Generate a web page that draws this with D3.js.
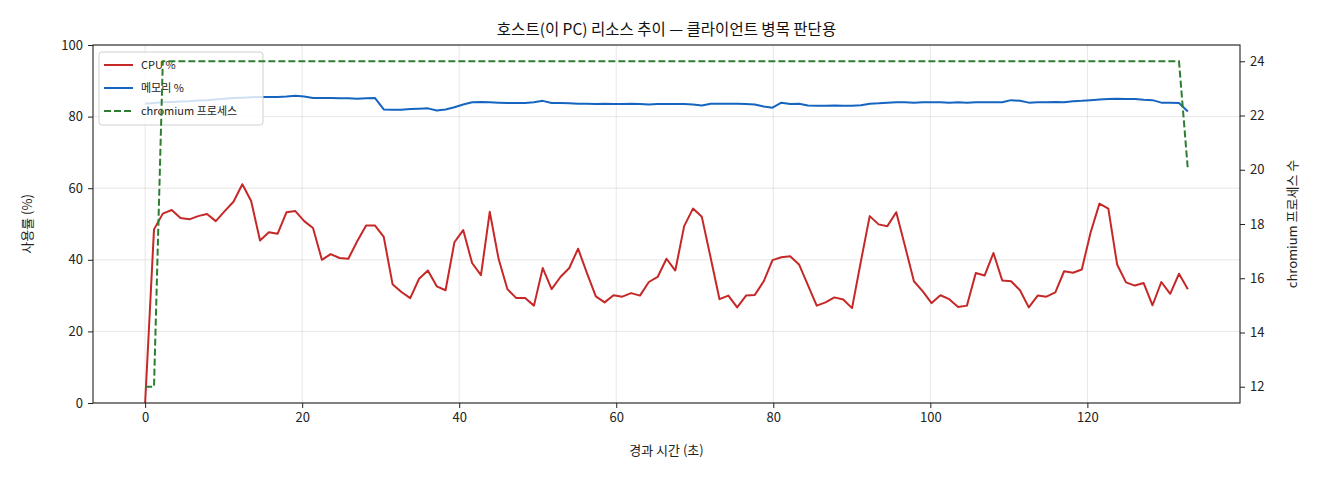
<!DOCTYPE html>
<html><head><meta charset="utf-8">
<script src="https://cdn.jsdelivr.net/npm/d3@7/dist/d3.min.js"></script>
<style>
html,body{margin:0;padding:0;background:#fff;}
svg text{font-family:"Noto Sans CJK KR","Noto Sans",sans-serif;}
</style></head>
<body>
<svg id="chart" width="1320" height="480"></svg>
<script>
const title = "호스트(이 PC) 리소스 추이 — 클라이언트 병목 판단용";
const xLabel = "경과 시간 (초)";
const yLeftLabel = "사용률 (%)";
const yRightLabel = "chromium 프로세스 수";
const seriesNames = ["CPU %", "메모리 %", "chromium 프로세스"];
const xTicks = [0, 20, 40, 60, 80, 100, 120];
const yLeftTicks = [0, 20, 40, 60, 80, 100];
const yRightTicks = [12, 14, 16, 18, 20, 22, 24];

const times = [
 0.00, 1.13, 2.25, 3.38, 4.50, 5.63, 6.75, 7.88, 9.00, 10.13,
 11.25, 12.38, 13.50, 14.63, 15.76, 16.88, 18.01, 19.13, 20.26, 21.38,
 22.51, 23.63, 24.76, 25.88, 27.01, 28.14, 29.26, 30.39, 31.51, 32.64,
 33.76, 34.89, 36.01, 37.14, 38.26, 39.39, 40.51, 41.64, 42.77, 43.89,
 45.02, 46.14, 47.27, 48.39, 49.52, 50.64, 51.77, 52.89, 54.02, 55.14,
 56.27, 57.40, 58.52, 59.65, 60.77, 61.90, 63.02, 64.15, 65.27, 66.40,
 67.52, 68.65, 69.77, 70.90, 72.03, 73.15, 74.28, 75.40, 76.53, 77.65,
 78.78, 79.90, 81.03, 82.15, 83.28, 84.41, 85.53, 86.66, 87.78, 88.91,
 90.03, 91.16, 92.28, 93.41, 94.53, 95.66, 96.78, 97.91, 99.04, 100.16,
 101.29, 102.41, 103.54, 104.66, 105.79, 106.91, 108.04, 109.16, 110.29, 111.42,
 112.54, 113.67, 114.79, 115.92, 117.04, 118.17, 119.29, 120.42, 121.54, 122.67,
 123.79, 124.92, 126.05, 127.17, 128.30, 129.42, 130.55, 131.67, 132.80
];

const cpu = [
 0.0, 48.5, 52.9, 53.9, 51.7, 51.3, 52.2, 52.8, 50.8, 53.6,
 56.2, 61.1, 56.4, 45.4, 47.7, 47.3, 53.3, 53.6, 50.8, 48.9,
 40.0, 41.6, 40.5, 40.3, 45.2, 49.6, 49.6, 46.4, 33.2, 31.0,
 29.3, 34.7, 37.0, 32.6, 31.5, 44.9, 48.3, 39.1, 35.7, 53.4,
 40.2, 31.8, 29.3, 29.3, 27.2, 37.7, 31.8, 35.2, 37.7, 43.1,
 36.3, 29.8, 28.1, 30.1, 29.7, 30.7, 30.0, 33.8, 35.2, 40.3,
 37.0, 49.4, 54.3, 52.0, 40.5, 29.0, 30.0, 26.7, 30.0, 30.2,
 34.0, 39.9, 40.7, 41.0, 38.7, 32.9, 27.2, 28.1, 29.5, 28.9,
 26.5, 39.6, 52.2, 49.9, 49.4, 53.3, 43.8, 34.0, 31.2, 27.9,
 30.1, 29.0, 26.8, 27.2, 36.3, 35.6, 41.9, 34.2, 34.0, 31.5,
 26.7, 30.0, 29.7, 30.9, 36.8, 36.4, 37.3, 47.7, 55.7, 54.3,
 38.7, 33.7, 32.8, 33.5, 27.3, 33.8, 30.5, 36.1, 31.8
];

const memory = [
 83.6, 83.8, 84.0, 84.1, 84.2, 84.3, 84.5, 84.6, 84.8, 85.0,
 85.2, 85.3, 85.4, 85.5, 85.5, 85.5, 85.6, 85.8, 85.6, 85.2,
 85.2, 85.2, 85.1, 85.1, 85.0, 85.1, 85.2, 82.0, 81.9, 81.9,
 82.1, 82.2, 82.3, 81.7, 82.0, 82.6, 83.4, 84.0, 84.1, 84.0,
 83.9, 83.8, 83.8, 83.8, 84.0, 84.4, 83.8, 83.8, 83.7, 83.6,
 83.6, 83.5, 83.6, 83.5, 83.5, 83.6, 83.5, 83.4, 83.5, 83.5,
 83.5, 83.5, 83.4, 83.1, 83.6, 83.6, 83.6, 83.6, 83.5, 83.4,
 82.8, 82.5, 83.9, 83.5, 83.6, 83.1, 83.0, 83.0, 83.1, 83.0,
 83.0, 83.2, 83.6, 83.7, 83.9, 84.0, 84.0, 83.9, 84.0, 84.0,
 84.0, 83.9, 84.0, 83.9, 84.0, 84.0, 84.0, 84.0, 84.6, 84.4,
 83.9, 84.0, 84.0, 84.1, 84.0, 84.3, 84.4, 84.6, 84.8, 84.9,
 85.0, 84.9, 84.9, 84.7, 84.6, 83.9, 83.9, 83.8, 81.4
];

const chromium = [
 12, 12, 24, 24, 24, 24, 24, 24, 24, 24,
 24, 24, 24, 24, 24, 24, 24, 24, 24, 24,
 24, 24, 24, 24, 24, 24, 24, 24, 24, 24,
 24, 24, 24, 24, 24, 24, 24, 24, 24, 24,
 24, 24, 24, 24, 24, 24, 24, 24, 24, 24,
 24, 24, 24, 24, 24, 24, 24, 24, 24, 24,
 24, 24, 24, 24, 24, 24, 24, 24, 24, 24,
 24, 24, 24, 24, 24, 24, 24, 24, 24, 24,
 24, 24, 24, 24, 24, 24, 24, 24, 24, 24,
 24, 24, 24, 24, 24, 24, 24, 24, 24, 24,
 24, 24, 24, 24, 24, 24, 24, 24, 24, 24,
 24, 24, 24, 24, 24, 24, 24, 24, 20
];

const colors = {cpu: "#c62828", mem: "#1565c0", chrom: "#2e7d32"};

const svg = d3.select("#chart");
const L = 93, R = 1240, T = 45, B = 403;

const [x0, x1] = d3.extent(times);
const xpad = (x1 - x0) * 0.05;
const x = d3.scaleLinear().domain([x0 - xpad, x1 + xpad]).range([L, R]);
const yL = d3.scaleLinear().domain([0, 100]).range([B, T]);
const [c0, c1] = d3.extent(chromium);
const cpad = (c1 - c0) * 0.05;
const yR = d3.scaleLinear().domain([c0 - cpad, c1 + cpad]).range([B, T]);

svg.append("defs").append("clipPath").attr("id", "clip")
  .append("rect").attr("x", L).attr("y", T).attr("width", R - L).attr("height", B - T);

// grid
const grid = svg.append("g");
grid.selectAll("line.gx").data(xTicks).join("line")
  .attr("x1", d => x(d)).attr("x2", d => x(d)).attr("y1", T).attr("y2", B)
  .attr("stroke", "#b0b0b0").attr("stroke-opacity", 0.3).attr("stroke-width", 1);
grid.selectAll("line.gy").data(yLeftTicks).join("line")
  .attr("x1", L).attr("x2", R).attr("y1", d => yL(d)).attr("y2", d => yL(d))
  .attr("stroke", "#b0b0b0").attr("stroke-opacity", 0.3).attr("stroke-width", 1);

const data = times.map((t, i) => ({t, cpu: cpu[i], mem: memory[i], ch: chromium[i]}));
const plot = svg.append("g").attr("clip-path", "url(#clip)");

plot.append("path").datum(data)
  .attr("fill", "none").attr("stroke", colors.cpu).attr("stroke-width", 2).attr("stroke-linejoin", "round")
  .attr("d", d3.line().x(d => x(d.t)).y(d => yL(d.cpu)));
plot.append("path").datum(data)
  .attr("fill", "none").attr("stroke", colors.mem).attr("stroke-width", 2).attr("stroke-linejoin", "round")
  .attr("d", d3.line().x(d => x(d.t)).y(d => yL(d.mem)));

// legend (belongs to left axes, drawn beneath the right-axes line)
const lg = svg.append("g").attr("transform", `translate(99,52)`);
lg.append("rect").attr("width", 164).attr("height", 73).attr("rx", 3)
  .attr("fill", "#fff").attr("fill-opacity", 0.8).attr("stroke", "#d0d0d0");
const legendItems = [
  {name: seriesNames[0], color: colors.cpu, dash: null},
  {name: seriesNames[1], color: colors.mem, dash: null},
  {name: seriesNames[2], color: colors.chrom, dash: "7,3"}
];
legendItems.forEach((it, i) => {
  const yy = 13 + i * 23;
  lg.append("line").attr("x1", 5).attr("x2", 34).attr("y1", yy).attr("y2", yy)
    .attr("stroke", it.color).attr("stroke-width", 2).attr("stroke-dasharray", it.dash);
  lg.append("text").attr("x", 42).attr("y", yy).attr("dy", "0.35em")
    .attr("font-size", 11).attr("fill", "#222").text(it.name);
});

// right-axes line drawn on top of the legend
const plot2 = svg.append("g").attr("clip-path", "url(#clip)");
plot2.append("path").datum(data)
  .attr("fill", "none").attr("stroke", colors.chrom).attr("stroke-width", 2).attr("stroke-dasharray", "7,3")
  .attr("d", d3.line().x(d => x(d.t)).y(d => yR(d.ch)));

// axes
const fontSize = 13;
const ax = svg.append("g").attr("transform", `translate(0,${B})`)
  .call(d3.axisBottom(x).tickValues(xTicks).tickSize(5).tickPadding(5).tickFormat(d3.format("d")));
const ayL = svg.append("g").attr("transform", `translate(${L},0)`)
  .call(d3.axisLeft(yL).tickValues(yLeftTicks).tickSize(5).tickPadding(5).tickFormat(d3.format("d")));
const ayR = svg.append("g").attr("transform", `translate(${R},0)`)
  .call(d3.axisRight(yR).tickValues(yRightTicks).tickSize(5).tickPadding(5).tickFormat(d3.format("d")));
[ax, ayL, ayR].forEach(g => {
  g.select(".domain").remove();
  g.selectAll("text").attr("font-size", fontSize).attr("fill", "#222")
    .style("font-family", '"Noto Sans CJK KR","Noto Sans",sans-serif');
  g.selectAll(".tick line").attr("stroke", "#222");
});

// frame
svg.append("rect").attr("x", L).attr("y", T).attr("width", R - L).attr("height", B - T)
  .attr("fill", "none").attr("stroke", "#222").attr("stroke-width", 1.1);

// labels
svg.append("text").attr("x", (L + R) / 2).attr("y", 35).attr("text-anchor", "middle")
  .attr("font-size", 15.5).attr("fill", "#111").text(title);
svg.append("text").attr("x", (L + R) / 2).attr("y", 455).attr("text-anchor", "middle")
  .attr("font-size", 13).attr("fill", "#222").text(xLabel);
svg.append("text").attr("transform", `translate(32,${(T + B) / 2}) rotate(-90)`).attr("text-anchor", "middle")
  .attr("font-size", 13).attr("fill", "#222").text(yLeftLabel);
svg.append("text").attr("transform", `translate(1297,${(T + B) / 2}) rotate(-90)`).attr("text-anchor", "middle")
  .attr("font-size", 13).attr("fill", "#222").text(yRightLabel);
</script>
</body></html>
